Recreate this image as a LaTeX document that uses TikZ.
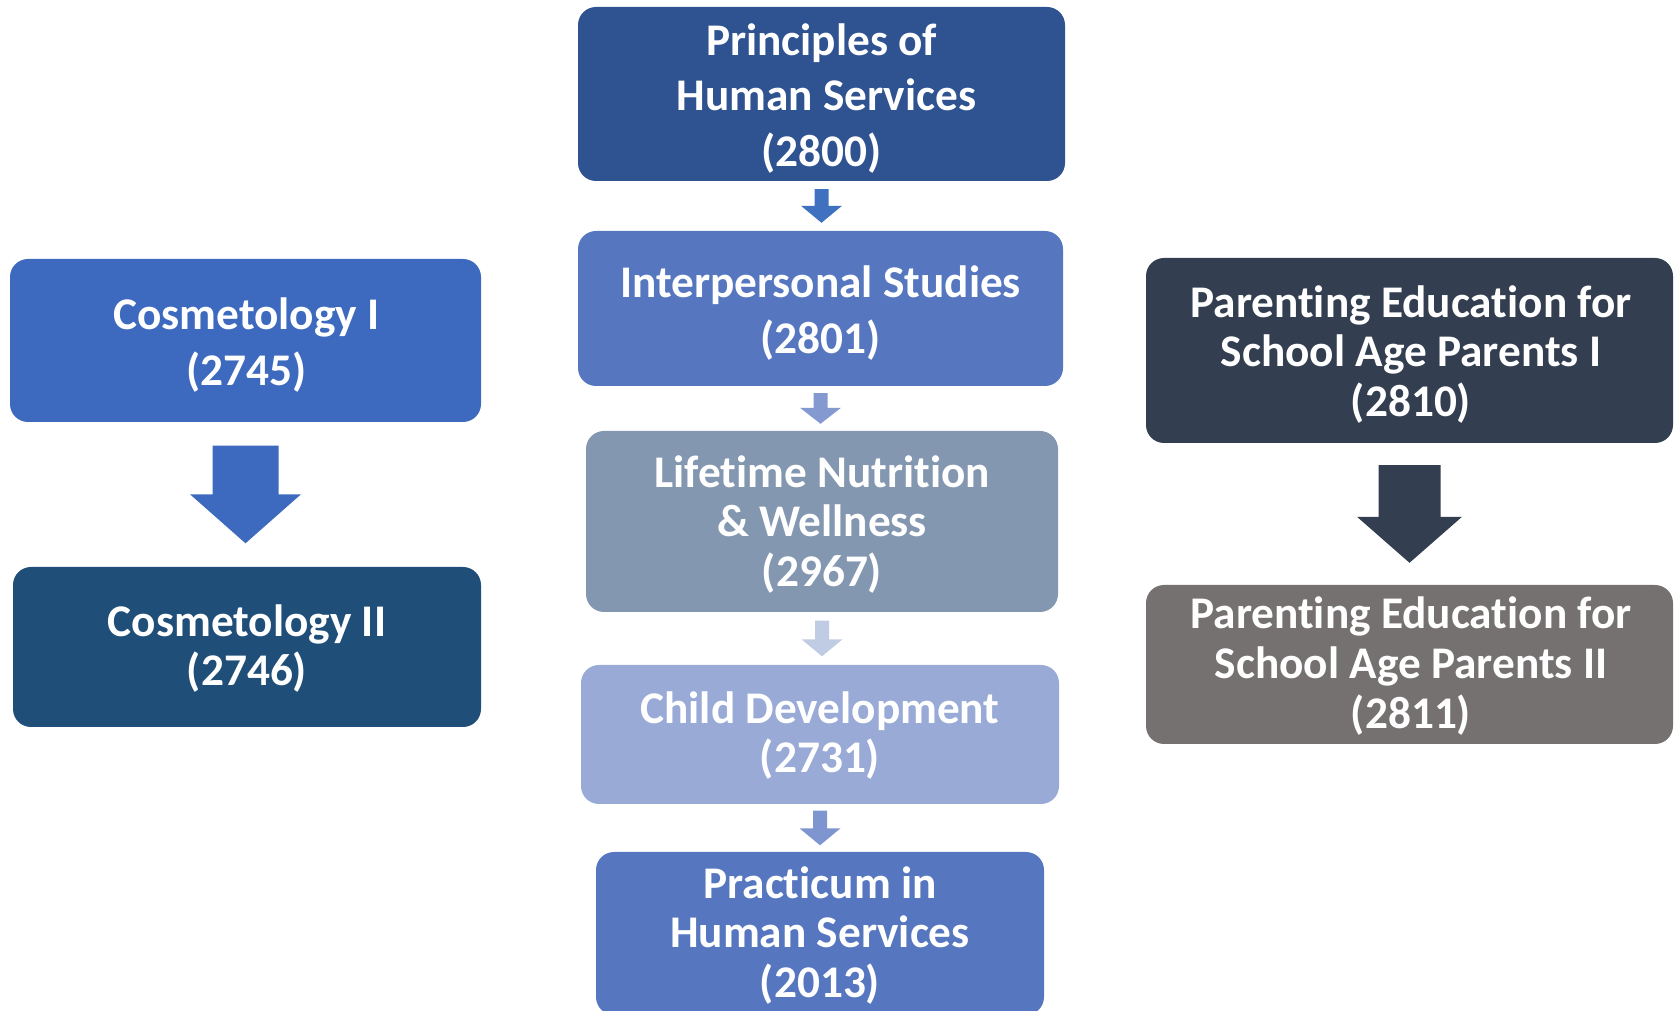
\documentclass[tikz,border=0pt]{standalone}
\usepackage{fontspec}
\setmainfont{Carlito}[Ligatures=NoCommon]
\usetikzlibrary{calc}
\definecolor{cA}{HTML}{2F5291}
\definecolor{cB}{HTML}{5677C0}
\definecolor{cC}{HTML}{8497B0}
\definecolor{cD}{HTML}{99AAD6}
\definecolor{cCos}{HTML}{3D6ABF}
\definecolor{cCosB}{HTML}{1F4E79}
\definecolor{cPE}{HTML}{333F50}
\definecolor{cPEB}{HTML}{767171}
\definecolor{aA}{HTML}{4071C0}
\definecolor{aB}{HTML}{8499D0}
\definecolor{aC}{HTML}{C0CBE4}
\definecolor{aD}{HTML}{7F95CF}
% #1 colour, #2 from node, #3 to node, #4 gap, #5 shaft half width, #6 head half width, #7 head length
\newcommand{\blkarr}[7]{%
  \path (#2.south) ++(0,-#4) coordinate (s) (#2.south |- #3.north) ++(0,#4) coordinate (e);
  \fill[#1] ($(s)+(-#5,0)$) -- ($(s)+(#5,0)$) -- ($(e)+(#5,#7)$) -- ($(e)+(#6,#7)$) -- (e)
     -- ($(e)+(-#6,#7)$) -- ($(e)+(-#5,#7)$) -- cycle;}
\tikzset{
  box/.style={rounded corners=18pt, inner sep=0pt},
  txt/.style={inner sep=0pt, align=center, text=white,
    font=\fontsize{45.3}{55.5}\selectfont\bfseries},
  tight/.style={font=\fontsize{45.3}{49.6}\selectfont\bfseries},
}
\begin{document}
\begin{tikzpicture}[x=1pt,y=1pt]
\useasboundingbox (0,0) rectangle (1674,1010);
\clip (0,0) rectangle (1674,1010);
% centre column
\node[box, fill=cA, minimum width=487, minimum height=174] (p1) at (821.5,916) {};
\node[txt] (p1t) at ($(p1)+(0,-4.3)$) {Principles of\\\hspace*{10pt}Human Services\\(2800)};
\node[box, fill=cB, minimum width=485, minimum height=155] (p2) at (820.5,701.5) {};
\node[txt] (p2t) at ($(p2)+(0,-4.3)$) {Interpersonal Studies\\(2801)};
\node[box, fill=cC, minimum width=472, minimum height=181] (p3) at (822,488.5) {};
\node[txt, tight] (p3t) at ($(p3)+(0,-2.7)$) {Lifetime Nutrition\\\& Wellness\\(2967)};
\node[box, fill=cD, minimum width=478, minimum height=139] (p4) at (820,275.5) {};
\node[txt, tight] (p4t) at ($(p4)+(0,-1)$) {Child Development\\(2731)};
\node[box, fill=cB, minimum width=448, minimum height=163] (p5) at (820,76.5) {};
\node[txt, tight] (p5t) at ($(p5)+(0,-2)$) {Practicum in\\Human Services\\(2013)};
% left column
\node[box, fill=cCos, minimum width=471, minimum height=163] (c1) at (245.5,669.5) {};
\node[txt] (c1t) at ($(c1)+(1,-4.3)$) {Cosmetology I\\(2745)};
\node[box, fill=cCosB, minimum width=468, minimum height=160] (c2) at (247,363) {};
\node[txt, tight] (c2t) at ($(c2)+(0,-1.6)$) {Cosmetology II\\(2746)};
% right column
\node[box, fill=cPE, minimum width=527, minimum height=185] (e1) at (1409.5,659.5) {};
\node[txt, tight] (e1t) at ($(e1)+(1.5,-3.7)$) {Parenting Education for\\School Age Parents I\\(2810)};
\node[box, fill=cPEB, minimum width=527, minimum height=159] (e2) at (1409.5,345.5) {};
\node[txt, tight] (e2t) at ($(e2)+(1.5,-1.6)$) {Parenting Education for\\School Age Parents II\\(2811)};
% arrows
\blkarr{aA}{p1}{p2}{8}{7}{20.5}{17}
\blkarr{aB}{p2}{p3}{7}{7}{20.5}{16}
\blkarr{aC}{p3}{p4}{8.5}{7}{20.5}{17}
\blkarr{aD}{p4}{p5}{6.5}{7}{20.5}{17}
\blkarr{cCos}{c1}{c2}{23.5}{33}{55.5}{49}
\blkarr{cPE}{e1}{e2}{22}{31}{52.5}{46}
\end{tikzpicture}
\end{document}
